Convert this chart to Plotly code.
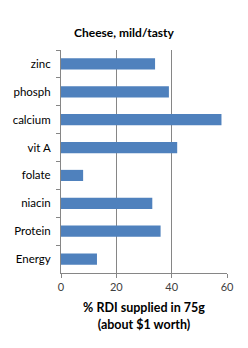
import plotly.graph_objects as go

categories = ["zinc", "phosph", "calcium", "vit A", "folate", "niacin", "Protein", "Energy"]
values = [34, 39, 58, 42, 8, 33, 36, 13]
x_ticks = [0, 20, 40, 60]

FONT = "Lato, Carlito, Calibri, sans-serif"

fig = go.Figure(go.Bar(
    x=values, y=categories, orientation="h",
    marker=dict(color="#4F81BD", line=dict(width=0)),
))

fig.update_layout(
    width=248, height=348,
    margin=dict(l=61, r=21, t=50, b=75),
    paper_bgcolor="white", plot_bgcolor="white",
    bargap=0.6,
    showlegend=False,
    font=dict(family=FONT, size=11, color="#000000"),
    title=dict(text="<b>Cheese, mild/tasty</b>", x=0.5, xanchor="center",
               y=1 - 33 / 348, yanchor="middle", font=dict(size=12, family=FONT)),
)
fig.update_xaxes(
    range=[0, 60], tickvals=x_ticks, showgrid=True, gridcolor="#868686", gridwidth=1,
    showline=True, linecolor="#868686", linewidth=1,
    ticks="outside", ticklen=4, tickcolor="#868686",
    tickfont=dict(size=11, color="#404040"),
    zeroline=False,
    title=dict(text="<b>% RDI supplied in 75g<br>(about $1 worth)</b>", font=dict(size=12.5), standoff=11),
)
fig.update_yaxes(
    autorange="reversed", showgrid=False,
    showline=True, linecolor="#868686", linewidth=1,
    ticks="outside", ticklen=4, tickcolor="#868686", tickson="boundaries",
    tickfont=dict(size=11.5, color="#000000"), ticklabelstandoff=7,
)

fig.write_html("out.html")
